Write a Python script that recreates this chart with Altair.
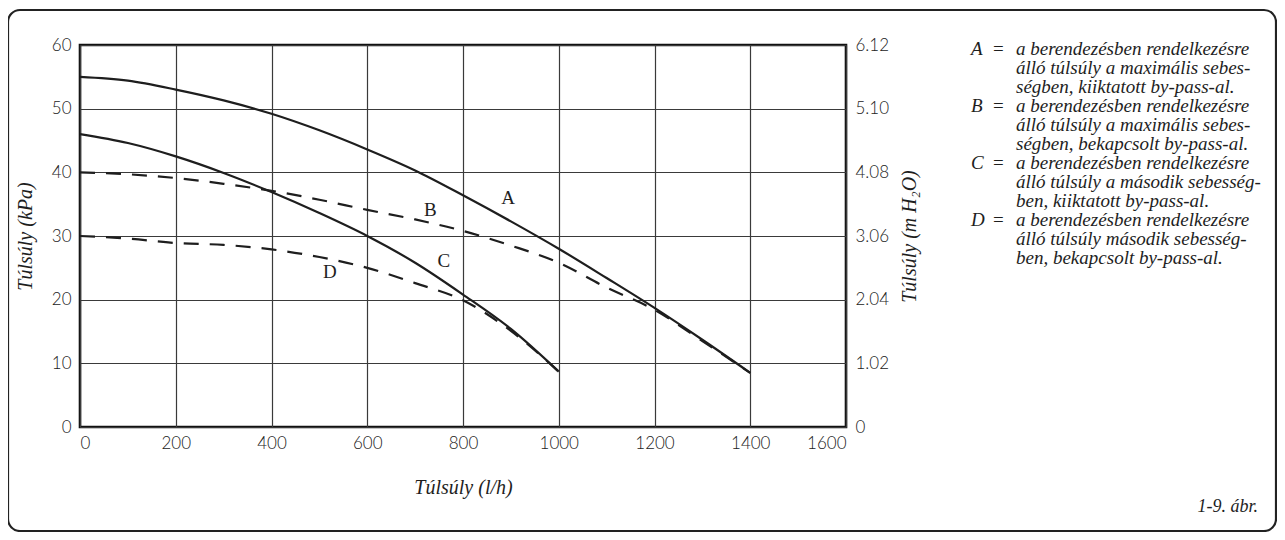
import altair as alt
import pandas as pd

# ---- data ----
flow = [0, 100, 200, 300, 400, 500, 600, 700, 800, 900, 1000, 1100, 1200, 1300, 1400]
curve_A = [55, 54.4, 53.0, 51.3, 49.2, 46.6, 43.6, 40.3, 36.4, 32.3, 28.0, 23.4, 18.7, 13.7, 8.5]
curve_B = [40, 39.7, 39.1, 38.2, 37.1, 35.7, 34.1, 32.6, 30.8, 28.5, 25.8, 21.9, 18.4, 13.5, 8.5]
flow_2 = [0, 100, 200, 300, 400, 500, 600, 700, 800, 900, 1000]
curve_C = [46, 44.6, 42.5, 39.9, 36.9, 33.6, 30.0, 25.8, 20.8, 15.4, 8.7]
curve_D = [30, 29.6, 28.9, 28.6, 27.9, 26.7, 25.0, 22.6, 19.9, 15.1, 8.7]

label_names = ["A", "B", "C", "D"]
label_x = [894, 732, 760, 522]
label_y = [36, 34.1, 26.1, 24.3]

x_ticks = [0, 200, 400, 600, 800, 1000, 1200, 1400, 1600]
y_ticks = [0, 10, 20, 30, 40, 50, 60]
y2_ticks = [0, 1.02, 2.04, 3.06, 4.08, 5.10, 6.12]

legend_lines = [
    ("A", "a berendezésben rendelkezésre"),
    ("", "álló túlsúly a maximális sebes-"),
    ("", "ségben, kiiktatott by-pass-al."),
    ("B", "a berendezésben rendelkezésre"),
    ("", "álló túlsúly a maximális sebes-"),
    ("", "ségben, bekapcsolt by-pass-al."),
    ("C", "a berendezésben rendelkezésre"),
    ("", "álló túlsúly a második sebesség-"),
    ("", "ben, kiiktatott by-pass-al."),
    ("D", "a berendezésben rendelkezésre"),
    ("", "álló túlsúly második sebesség-"),
    ("", "ben, bekapcsolt by-pass-al."),
]
figure_caption = "1-9. ábr."

# ---- tables ----
rows = []
for s, xs, ys in [("A", flow, curve_A), ("B", flow, curve_B), ("C", flow_2, curve_C), ("D", flow_2, curve_D)]:
    for xv, yv in zip(xs, ys):
        rows.append({"x": xv, "y": yv, "series": s})
df = pd.DataFrame(rows)
solid_df = df[df.series.isin(["A", "C"])]
dash_df = df[df.series.isin(["B", "D"])]
labels_df = pd.DataFrame({"x": label_x, "y": label_y, "t": label_names})
y2_df = pd.DataFrame({"v": y2_ticks})

W, H = 766, 382
serif = "Liberation Serif"
sans = "Lato"
ink = "#1e1e1e"

xscale = alt.Scale(domain=[0, 1600], nice=False, zero=False)
yscale = alt.Scale(domain=[0, 60], nice=False)

x_enc = alt.X("x:Q", scale=xscale, axis=alt.Axis(
    values=x_ticks, format="d", title="Túlsúly (l/h)", grid=True, ticks=False, domain=False,
    labelPadding=8, titlePadding=26))
y_enc = alt.Y("y:Q", scale=yscale, axis=alt.Axis(
    values=y_ticks, title="Túlsúly (kPa)", grid=True, ticks=False, domain=False,
    labelPadding=9, titlePadding=16))

solid = alt.Chart(solid_df).mark_line(color=ink, strokeWidth=2.2, interpolate="monotone").encode(
    x=x_enc, y=y_enc, detail="series:N")
dashed = alt.Chart(dash_df).mark_line(color=ink, strokeWidth=2.2, strokeDash=[15, 11],
                                      interpolate="monotone").encode(
    x="x:Q", y="y:Q", detail="series:N")
curve_labels = alt.Chart(labels_df).mark_text(font=serif, fontSize=19, color=ink).encode(
    x="x:Q", y="y:Q", text="t:N")

right_axis = alt.Chart(y2_df).mark_point(opacity=0).encode(
    y=alt.Y("v:Q", scale=alt.Scale(domain=[0, 6.12], nice=False),
            axis=alt.Axis(orient="right", values=y2_ticks, title="Túlsúly (m H₂O)",
                          grid=False, ticks=False, domain=False, labelPadding=9,
                          titlePadding=31, titleAngle=270,
                          labelExpr="datum.value == 0 ? '0' : format(datum.value, '.2f')")))

# legend text block (annotation, positioned in pixels)
leg_rows = []
for i, (k, t) in enumerate(legend_lines):
    leg_rows.append({"i": i, "k": k, "eq": "=" if k else "", "t": t})
leg_df = pd.DataFrame(leg_rows)
line_h = 19
leg_y = alt.Y("i:O", scale=alt.Scale(domain=list(range(12)), range=[4, 4 + 11 * line_h],
                                     padding=0, type="point"), axis=None)
leg_font = 19
leg_key = alt.Chart(leg_df).mark_text(font=serif, fontStyle="italic", fontSize=leg_font, color=ink,
                                      align="left", baseline="middle").encode(
    x=alt.value(891), y=leg_y, text="k:N")
leg_eq = alt.Chart(leg_df).mark_text(font=serif, fontSize=leg_font, color=ink,
                                     align="left", baseline="middle").encode(
    x=alt.value(913), y=leg_y, text="eq:N")
leg_txt = alt.Chart(leg_df).mark_text(font=serif, fontStyle="italic", fontSize=leg_font, color=ink,
                                      align="left", baseline="middle").encode(
    x=alt.value(936), y=leg_y, text="t:N")

caption = alt.Chart(pd.DataFrame({"t": [figure_caption]})).mark_text(
    font=serif, fontStyle="italic", fontSize=18, color=ink, align="right", baseline="middle").encode(
    x=alt.value(1178), y=alt.value(462), text="t:N")

frame = alt.Chart(pd.DataFrame({"a": [0]})).mark_rect(
    filled=False, stroke="#222", strokeWidth=2.2, cornerRadius=12).encode(
    x=alt.value(-72), x2=alt.value(1196), y=alt.value(-35), y2=alt.value(486))

main = alt.layer(solid, dashed, curve_labels).properties(width=W, height=H)
chart = alt.layer(main, right_axis, leg_key, leg_eq, leg_txt, caption, frame).resolve_scale(
    y="independent").properties(
    width=W, height=H,
    autosize=alt.AutoSizeParams(type="none"),
    padding={"left": 72, "top": 37, "right": 1269 - 72 - W, "bottom": 524 - 37 - H},
).configure_view(stroke="#111", strokeWidth=2.6).configure_axis(
    labelFont=sans, labelFontSize=17, labelFontWeight=300, labelColor="#222",
    titleFont=serif, titleFontStyle="italic", titleFontWeight="normal", titleFontSize=20,
    titleColor=ink, gridColor="#3a3a3a", gridWidth=1.2, gridOpacity=1,
)

chart.save("out.html", embed_options={"renderer": "svg", "actions": False})
